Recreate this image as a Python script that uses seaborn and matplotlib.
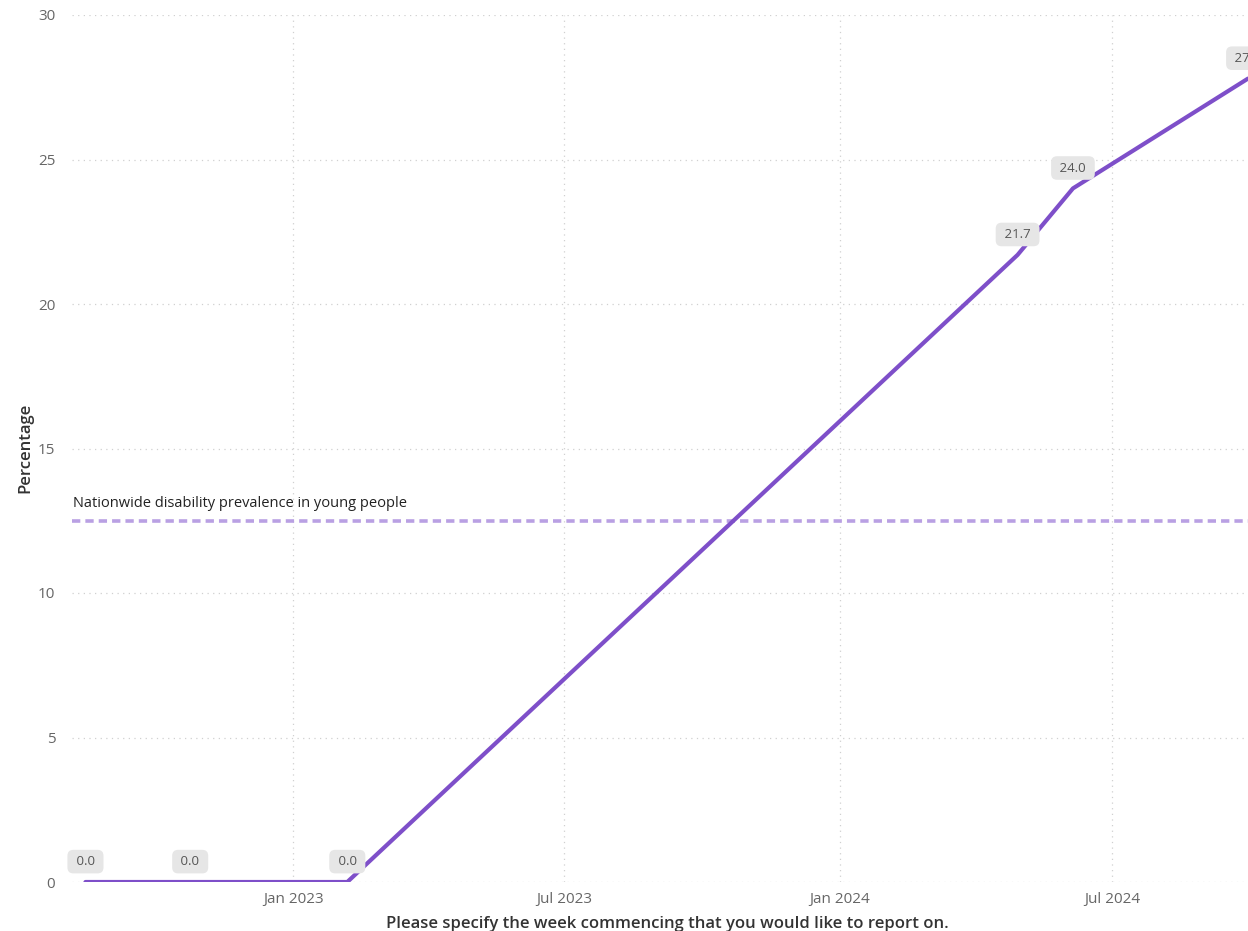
import numpy as np
import pandas as pd
import matplotlib
matplotlib.use('Agg')
import matplotlib.pyplot as plt
import matplotlib.dates as mdates
import seaborn as sns

# Data
week_commencing = ['2022-08-15', '2022-10-24', '2023-02-06',
                   '2024-04-29', '2024-06-05', '2024-09-30']
percentage = [0.0, 0.0, 0.0, 21.7, 24.0, 27.8]
point_labels = ['0.0', '0.0', '0.0', '21.7', '24.0', '27.8']
reference_value = 12.5
reference_label = 'Nationwide disability prevalence in young people'
x_tick_dates = ['2023-01-01', '2023-07-01', '2024-01-01', '2024-07-01']
x_tick_labels = ['Jan 2023', 'Jul 2023', 'Jan 2024', 'Jul 2024']
y_ticks = [0, 5, 10, 15, 20, 25, 30]

LINE_COLOR = '#7E4FC9'
REF_COLOR = '#B9A0E3'
GRID_COLOR = '#D0D0D0'
TICK_COLOR = '#666666'

df = pd.DataFrame({'week': pd.to_datetime(week_commencing), 'pct': percentage})

sns.set_style('white')
plt.rcParams['font.family'] = ['Open Sans', 'DejaVu Sans']

fig = plt.figure(figsize=(12.48, 9.31), dpi=100)
ax = fig.add_axes([72 / 1248, 1 - 882 / 931, 1 - 72 / 1248, (882 - 15) / 931])

sns.lineplot(data=df, x='week', y='pct', color=LINE_COLOR, linewidth=3.0,
             ax=ax, zorder=3)

# reference line
ax.axhline(reference_value, color=REF_COLOR, linewidth=2.6,
           linestyle=(0, (2.3, 1.4)), zorder=2)
ax.text(0.001, reference_value + 0.35, reference_label, transform=ax.get_yaxis_transform(),
        fontsize=10.5, color='#222222', ha='left', va='bottom')

# data labels
for d, v, lab in zip(df['week'], df['pct'], point_labels):
    ax.annotate(' ' + lab + ' ', (d, v), xytext=(0, 10), textcoords='offset points',
                ha='center', va='bottom', fontsize=9.5, color='#555555',
                bbox=dict(boxstyle='round,pad=0.4,rounding_size=0.45',
                          fc='#E6E6E6', ec='none'),
                annotation_clip=False, zorder=4)

ax.set_ylim(0, 30)
ax.set_yticks(y_ticks)
ax.set_xlim(pd.Timestamp('2022-08-06'), pd.Timestamp('2024-09-30'))
ax.set_xticks(pd.to_datetime(x_tick_dates))
ax.set_xticklabels(x_tick_labels)

ax.grid(True, color=GRID_COLOR, linestyle=(0, (1, 3.5)), linewidth=0.9)
for s in ax.spines.values():
    s.set_visible(False)
ax.tick_params(axis='both', length=0, labelsize=11, colors=TICK_COLOR, pad=7)
ax.tick_params(axis='y', pad=12)

ax.set_ylabel('Percentage', fontsize=12, color='#333333', fontweight='semibold')
ax.yaxis.set_label_coords(-39 / 1176, (882 - 448) / 867)
ax.set_xlabel('Please specify the week commencing that you would like to report on.',
              fontsize=12, color='#333333', fontweight='semibold', labelpad=4)
ax.xaxis.set_label_coords((667 - 72) / (1248 - 72), -34 / 867)

fig.savefig('out.png', dpi=100)
